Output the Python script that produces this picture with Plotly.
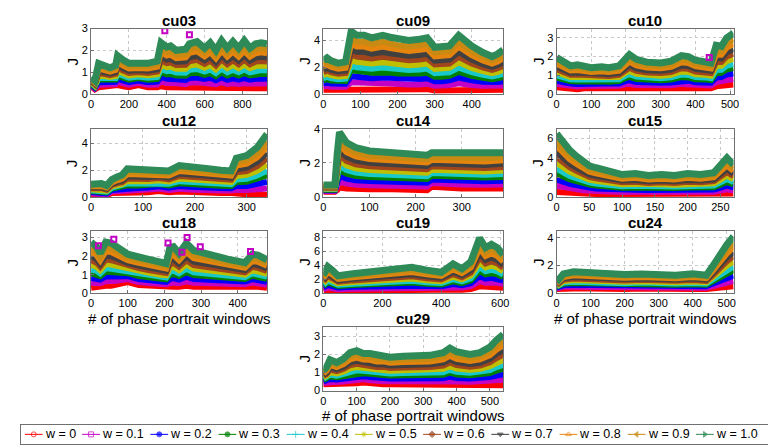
import plotly.graph_objects as go

# ---------------- data ----------------
W_LABELS = ["w = 0", "w = 0.1", "w = 0.2", "w = 0.3", "w = 0.4", "w = 0.5",
            "w = 0.6", "w = 0.7", "w = 0.8", "w = 0.9", "w = 1.0"]
# relative level of each weight between the w=0 curve and the w=1 curve
W_FRAC = [0.0, 0.107, 0.214, 0.32, 0.4, 0.5, 0.6, 0.69, 0.79, 0.88, 1.0]

cu03_x = [0, 20, 40, 100, 130, 140, 170, 200, 250, 300, 350, 370, 400, 420, 450, 500, 520, 560, 600, 630, 660, 690, 720, 750, 780, 810, 840, 870, 900, 930]
cu03_top = [0.75, 0.6, 1.4, 1.2, 1.3, 1.75, 1.55, 1.4, 1.4, 1.4, 1.5, 2.35, 2.15, 2.2, 2.0, 2.05, 2.3, 2.4, 2.1, 2.35, 2.0, 2.45, 2.1, 2.4, 2.1, 2.45, 2.1, 2.3, 2.35, 2.3]
cu03_base = [0.35, 0.2, 0.3, 0.35, 0.35, 0.4, 0.35, 0.3, 0.4, 0.3, 0.3, 0.35, 0.3, 0.3, 0.3, 0.25, 0.3, 0.3, 0.3, 0.3, 0.25, 0.3, 0.25, 0.25, 0.25, 0.25, 0.25, 0.25, 0.25, 0.25]
cu03_spk_x = [390, 520]
cu03_spk_y = [2.9, 2.72]

cu09_x = [0, 10, 20, 40, 60, 75, 90, 110, 130, 160, 180, 200, 230, 260, 280, 300, 320, 340, 365, 380, 400, 430, 455, 470, 485]
cu09_top = [2.5, 2.7, 2.5, 2.3, 2.4, 4.7, 4.4, 4.4, 4.2, 4.4, 4.25, 4.1, 4.0, 4.1, 4.2, 3.5, 3.5, 3.6, 4.4, 4.0, 3.6, 3.1, 2.8, 3.0, 3.3]
cu09_base = [0.3, 0.35, 0.3, 0.3, 0.3, 0.4, 0.4, 0.35, 0.35, 0.35, 0.35, 0.3, 0.3, 0.3, 0.35, 0.25, 0.25, 0.3, 0.35, 0.3, 0.3, 0.3, 0.3, 0.3, 0.3]

cu10_x = [0, 20, 40, 60, 80, 100, 130, 150, 180, 200, 210, 230, 260, 300, 330, 360, 380, 400, 430, 445, 460, 475, 490, 510]
cu10_top = [1.95, 1.7, 1.5, 1.55, 1.5, 1.4, 1.45, 1.4, 1.5, 1.95, 2.1, 1.85, 1.7, 1.65, 1.75, 2.05, 2.0, 1.8, 1.75, 1.65, 2.6, 2.55, 3.0, 3.25]
cu10_base = [0.35, 0.3, 0.3, 0.25, 0.3, 0.3, 0.3, 0.3, 0.3, 0.35, 0.35, 0.3, 0.3, 0.3, 0.3, 0.35, 0.35, 0.3, 0.3, 0.3, 0.4, 0.45, 0.5, 0.5]
cu10_spk_x = [440]
cu10_spk_y = [1.95]

cu12_x = [0, 20, 30, 40, 50, 60, 70, 90, 110, 130, 150, 170, 190, 210, 230, 250, 270, 280, 300, 320, 339]
cu12_top = [0.95, 1.0, 0.85, 1.3, 1.5, 1.65, 2.1, 2.05, 2.0, 2.05, 1.95, 2.35, 2.3, 2.2, 2.1, 2.0, 1.95, 2.9, 3.1, 3.7, 4.7]
cu12_base = [0.2, 0.15, 0.1, 0.3, 0.3, 0.3, 0.3, 0.3, 0.35, 0.45, 0.35, 0.4, 0.35, 0.3, 0.3, 0.3, 0.3, 0.25, 0.2, 0.2, 0.15]

cu14_x = [0, 25, 30, 35, 50, 70, 100, 150, 200, 225, 235, 260, 300, 350, 390]
cu14_top = [0.7, 0.7, 2.5, 3.8, 3.2, 2.9, 2.7, 2.6, 2.5, 2.45, 2.6, 2.6, 2.6, 2.5, 2.6]
cu14_base = [0.3, 0.3, 0.4, 0.55, 0.5, 0.45, 0.45, 0.45, 0.45, 0.4, 0.6, 0.55, 0.5, 0.5, 0.5]

cu15_x = [0, 10, 20, 30, 40, 50, 60, 80, 100, 120, 140, 160, 180, 200, 220, 240, 250, 260, 270]
cu15_top = [6.5, 5.5, 4.8, 4.2, 3.6, 3.2, 3.0, 2.6, 2.3, 2.4, 2.2, 2.3, 2.2, 2.4, 2.3, 2.5, 3.2, 4.0, 3.3]
cu15_base = [0.5, 0.45, 0.4, 0.4, 0.35, 0.35, 0.3, 0.3, 0.3, 0.3, 0.3, 0.3, 0.3, 0.3, 0.3, 0.3, 0.35, 0.4, 0.35]

cu18_x = [0, 15, 25, 40, 55, 70, 100, 130, 160, 190, 205, 215, 225, 240, 260, 280, 300, 340, 380, 420, 440, 455, 480]
cu18_top = [2.75, 2.5, 2.15, 2.75, 2.7, 2.5, 2.1, 1.95, 1.8, 1.65, 1.6, 2.45, 2.5, 2.15, 2.7, 2.3, 2.2, 1.95, 1.8, 1.65, 2.1, 2.05, 1.8]
cu18_base = [0.3, 0.35, 0.35, 0.4, 0.4, 0.45, 0.6, 0.45, 0.4, 0.35, 0.35, 0.3, 0.35, 0.35, 0.4, 0.35, 0.35, 0.35, 0.35, 0.35, 0.4, 0.35, 0.3]
cu18_spk_x = [20, 62, 210, 248, 262, 298, 435]
cu18_spk_y = [2.55, 2.9, 2.7, 2.2, 3.0, 2.5, 2.25]

cu19_x = [0, 15, 30, 50, 100, 150, 200, 250, 300, 350, 400, 440, 470, 500, 530, 550, 570, 590, 610]
cu19_top = [2.6, 3.8, 3.3, 2.5, 2.8, 3.0, 3.2, 3.5, 3.7, 3.3, 3.0, 4.2, 3.5, 4.5, 7.9, 6.5, 7.0, 6.5, 5.5]
cu19_base = [0.3, 0.5, 0.4, 0.35, 0.4, 0.4, 0.45, 0.45, 0.5, 0.45, 0.45, 0.55, 0.5, 0.6, 1.0, 0.9, 0.9, 0.9, 0.8]

cu24_x = [0, 20, 50, 100, 150, 200, 250, 300, 350, 400, 440, 460, 480, 500, 520]
cu24_top = [0.8, 1.4, 1.55, 1.45, 1.4, 1.35, 1.4, 1.35, 1.3, 1.4, 1.3, 2.0, 2.8, 3.5, 4.1]
cu24_base = [0.3, 0.35, 0.35, 0.35, 0.3, 0.3, 0.35, 0.3, 0.3, 0.3, 0.3, 0.35, 0.4, 0.5, 0.5]

cu29_x = [0, 10, 20, 40, 60, 80, 100, 120, 140, 160, 180, 200, 240, 280, 320, 360, 380, 400, 440, 470, 500, 520, 540]
cu29_top = [1.1, 1.3, 1.7, 1.55, 1.75, 2.1, 2.2, 2.05, 2.05, 1.95, 1.95, 1.85, 1.9, 1.9, 1.95, 2.1, 2.35, 2.15, 2.0, 2.1, 2.4, 2.8, 3.1]
cu29_base = [0.35, 0.35, 0.35, 0.35, 0.35, 0.35, 0.4, 0.45, 0.4, 0.35, 0.35, 0.35, 0.35, 0.35, 0.35, 0.3, 0.35, 0.3, 0.3, 0.3, 0.3, 0.3, 0.3]

# ---------------- style ----------------
COLORS = ["#ff0000", "#c400c4", "#0000ff", "#008000", "#19c8c8", "#bfbf00",
          "#a0451c", "#404040", "#e6850e", "#c88a12", "#2e8b57"]
SYMBOLS = ["circle-open", "square-open", "circle", "circle", "cross-thin-open",
           "asterisk-open", "diamond", "triangle-down", "triangle-up-open",
           "triangle-left", "triangle-right"]

W, H = 776, 445
COLS = [(81, 259), (316, 498), (552, 731)]
ROWS = [(15, 82), (118, 188), (223, 287), (322, 387)]

panels = [
    # name, x, top, base, spikes, (row, col), xmax, xdtick, ymax, yticks, xlabel
    ("cu03", cu03_x, cu03_top, cu03_base, (cu03_spk_x, cu03_spk_y), (0, 0), 930, 200, 3.0, [0, 1, 2, 3], False),
    ("cu09", cu09_x, cu09_top, cu09_base, None, (0, 1), 485, 100, 4.9, [0, 2, 4], False),
    ("cu10", cu10_x, cu10_top, cu10_base, (cu10_spk_x, cu10_spk_y), (0, 2), 510, 100, 3.5, [0, 1, 2, 3], False),
    ("cu12", cu12_x, cu12_top, cu12_base, None, (1, 0), 339, 100, 5.1, [0, 2, 4], False),
    ("cu14", cu14_x, cu14_top, cu14_base, None, (1, 1), 390, 100, 4.0, [0, 2, 4], False),
    ("cu15", cu15_x, cu15_top, cu15_base, None, (1, 2), 270, 50, 7.0, [0, 2, 4, 6], False),
    ("cu18", cu18_x, cu18_top, cu18_base, (cu18_spk_x, cu18_spk_y), (2, 0), 480, 100, 3.35, [0, 1, 2, 3], True),
    ("cu19", cu19_x, cu19_top, cu19_base, None, (2, 1), 610, 200, 8.9, [0, 2, 4, 6, 8], False),
    ("cu24", cu24_x, cu24_top, cu24_base, None, (2, 2), 520, 100, 4.5, [0, 2, 4], True),
    ("cu29", cu29_x, cu29_top, cu29_base, None, (3, 1), 540, 100, 3.5, [0, 1, 2, 3], True),
]

fig = go.Figure()
layout = dict(width=W, height=H, margin=dict(l=0, r=0, t=0, b=0),
              paper_bgcolor="white", plot_bgcolor="white", showlegend=False,
              font=dict(family="Liberation Sans, Arial, sans-serif", color="black"))
annotations = []

AX_LINE = "#707070"
GRID = "#c8c8c8"

for i, (name, xs, top, base, spk, (r, c), xmax, xdt, ymax, yticks, xlab) in enumerate(panels):
    k = i + 1
    xa = "x" if k == 1 else f"x{k}"
    ya = "y" if k == 1 else f"y{k}"
    l, rr = COLS[c]
    t, b = ROWS[r]
    xdom = [l / W, rr / W]
    ydom = [(H - b) / H, (H - t) / H]
    for wi in range(len(W_LABELS)):
        ys = [bv + W_FRAC[wi] * (tv - bv) for bv, tv in zip(base, top)]
        fig.add_trace(go.Scatter(x=xs, y=ys, mode="lines", xaxis=xa, yaxis=ya,
                                 line=dict(color=COLORS[wi], width=6 if wi < 10 else 7),
                                 hoverinfo="skip"))
    if spk is not None:
        fig.add_trace(go.Scatter(x=spk[0], y=spk[1], mode="markers", xaxis=xa, yaxis=ya,
                                 marker=dict(symbol="square-open", size=5, color=COLORS[1],
                                             line=dict(width=2, color=COLORS[1])),
                                 hoverinfo="skip"))
    axx = dict(domain=xdom, anchor=ya, range=[0, xmax], dtick=xdt, tick0=0,
               showline=True, mirror=True, linecolor=AX_LINE, linewidth=1,
               ticks="inside", ticklen=3, tickcolor=AX_LINE,
               showgrid=True, gridcolor=GRID, griddash="dot", gridwidth=1,
               zeroline=False, tickfont=dict(size=11, color="black"))
    axy = dict(domain=ydom, anchor=xa, range=[0, ymax], tickvals=yticks,
               showline=True, mirror=True, linecolor=AX_LINE, linewidth=1,
               ticks="inside", ticklen=3, tickcolor=AX_LINE,
               showgrid=True, gridcolor=GRID, griddash="dot", gridwidth=1,
               zeroline=False, tickfont=dict(size=11, color="black"))
    layout["xaxis" if k == 1 else f"xaxis{k}"] = axx
    layout["yaxis" if k == 1 else f"yaxis{k}"] = axy
    cx = (l + rr) / 2 / W
    annotations.append(dict(text=f"<b>{name}</b>", x=cx, y=(H - t) / H, xref="paper", yref="paper",
                            xanchor="center", yanchor="bottom", showarrow=False,
                            font=dict(size=15), yshift=-2))
    annotations.append(dict(text="J", x=(l - 19) / W, y=(ydom[0] + ydom[1]) / 2, xref="paper", yref="paper",
                            xanchor="center", yanchor="middle", showarrow=False, textangle=-90,
                            font=dict(size=15)))
    if xlab:
        annotations.append(dict(text="# of phase portrait windows", x=cx, y=(H - b - 26) / H,
                                xref="paper", yref="paper", xanchor="center", yanchor="middle",
                                showarrow=False, font=dict(size=15), borderpad=0))

# ---------------- legend box ----------------
kL = len(panels) + 1
LX0, LX1, LY0, LY1 = 10, 773, 422, 442
layout[f"xaxis{kL}"] = dict(domain=[LX0 / W, LX1 / W], anchor=f"y{kL}", range=[0, LX1 - LX0],
                            showline=True, mirror=True, linecolor=AX_LINE, linewidth=1,
                            showgrid=False, zeroline=False, showticklabels=False, ticks="", fixedrange=True)
layout[f"yaxis{kL}"] = dict(domain=[(H - LY1) / H, (H - LY0) / H], anchor=f"x{kL}", range=[0, 1],
                            showline=True, mirror=True, linecolor=AX_LINE, linewidth=1,
                            showgrid=False, zeroline=False, showticklabels=False, ticks="", fixedrange=True)
LEG_START = [4, 62, 131, 200, 269, 338, 407, 476, 545, 614, 683]
for wi, s in enumerate(LEG_START):
    fig.add_trace(go.Scatter(x=[s, s + 9, s + 18], y=[0.5, 0.5, 0.5], mode="lines+markers",
                             xaxis=f"x{kL}", yaxis=f"y{kL}",
                             line=dict(color=COLORS[wi], width=1),
                             marker=dict(symbol=SYMBOLS[wi], size=[0, 5, 0], color=COLORS[wi],
                                         line=dict(width=1, color=COLORS[wi])),
                             hoverinfo="skip"))
    annotations.append(dict(text=W_LABELS[wi], x=s + 19, y=0.5, xref=f"x{kL}", yref=f"y{kL}",
                            xanchor="left", yanchor="middle", showarrow=False, borderpad=0,
                            font=dict(size=12.5)))

layout["annotations"] = annotations
fig.update_layout(**layout)
fig.write_html("out.html")
